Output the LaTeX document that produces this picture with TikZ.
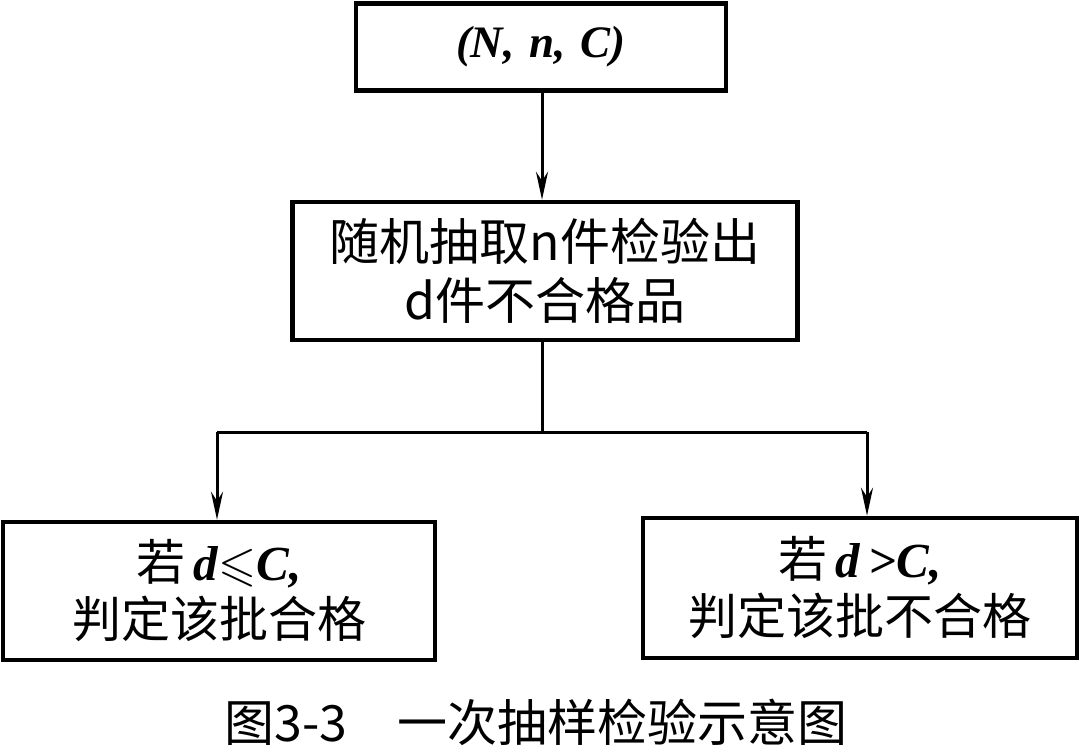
\documentclass[tikz,border=0pt]{standalone}
\usepackage{amssymb}
\usepackage{fontspec}
\setmainfont{Noto Sans CJK SC}
\newfontfamily\tnr{Liberation Serif}
\usetikzlibrary{arrows.meta}
\begin{document}
\begin{tikzpicture}[x=1pt,y=-1pt,
  box/.style={draw,line width=4.5pt,inner sep=0pt,align=center},
  conn/.style={line width=3pt},
  arr/.style={conn,-{Stealth[length=28pt,width=12pt]}},
  cjk/.style={font=\fontsize{49}{57}\selectfont},
]
\useasboundingbox (0,0) rectangle (1086,750);
\node[box,minimum width=370pt,minimum height=87pt,font=\tnr\bfseries\itshape\fontsize{45}{50}\selectfont] (top) at (541,47) {(N,\,\,n,\,\,C)};
\node[box,cjk,minimum width=505pt,minimum height=138pt,font=\fontsize{50}{59}\selectfont] (mid) at (545,271) {随机抽取n件检验出\\d件不合格品};
\node[box,cjk,minimum width=432pt,minimum height=138pt] (left) at (219,591) {若\,{\tnr\bfseries\itshape d}{\boldmath$\leqslant$}{\tnr\bfseries\itshape C,}\\判定该批合格};
\node[box,cjk,minimum width=434pt,minimum height=140pt] (right) at (860,588) {若\,{\tnr\bfseries\itshape d\,>C,}\\判定该批不合格};
\coordinate (split) at (542,432);
\coordinate (lt) at (217,432);
\coordinate (rt) at (867,432);
\draw[arr] ([xshift=1pt]top.south) -- ([xshift=-3pt]mid.north);
\draw[conn] ([xshift=-3pt]mid.south) -- (split);
\draw[conn] (lt) -- (rt);
\draw[arr] (lt) -- (lt |- left.north);
\draw[arr] (rt) -- (rt |- right.north);
\node[font=\fontsize{50}{54}\selectfont] (cap) at (536,722) {图3-3\hspace{1em}一次抽样检验示意图};
\end{tikzpicture}
\end{document}
